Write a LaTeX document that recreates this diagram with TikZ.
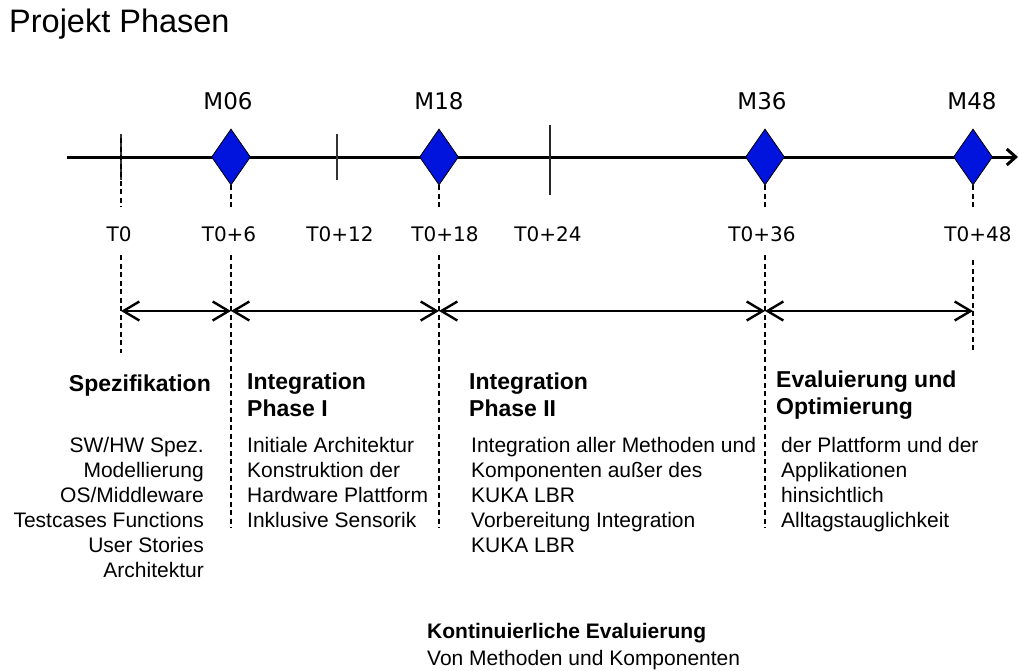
\documentclass[tikz,border=0pt]{standalone}
\usepackage{fontspec}
\setmainfont{Liberation Sans}
\newfontfamily\milefont{DejaVu Sans}
\usetikzlibrary{arrows.meta,shapes.geometric}

\definecolor{mileblue}{RGB}{0,20,222}

\tikzset{
	milestone/.style={diamond, draw=black, line width=0.8pt, fill=mileblue, inner sep=0pt, minimum width=39pt, minimum height=56pt},
	phaseline/.style={line width=2.6pt, dash pattern=on 5pt off 3.5pt},
	phasespan/.style={line width=2.4pt, {Straight Barb[length=16pt,width=19pt]}-{Straight Barb[length=16pt,width=19pt]}},
	mlabel/.style={anchor=base, inner sep=0pt, font=\milefont\fontsize{23}{27}\selectfont},
	tlabel/.style={anchor=base, inner sep=0pt, font=\milefont\fontsize{20}{24}\selectfont},
	heading/.style={inner sep=0pt, align=left, font=\bfseries\fontsize{23}{27}\selectfont},
	body/.style={inner sep=0pt, align=left, font=\fontsize{21}{25}\selectfont},
}

\begin{document}
\begin{tikzpicture}[x=1pt, y=-1pt]
	%%%%% START %%%%%
	\useasboundingbox (0,0) rectangle (1019,670);
	
	\node[anchor=base west, inner sep=0pt, font=\fontsize{32.5}{38}\selectfont] (title) at (9,32) {Projekt Phasen};
	
	% time axis
	\coordinate (axisstart) at (67,157);
	\coordinate (axisend) at (1018,157);
	\draw[line width=3pt, -{Straight Barb[length=9pt,width=16pt]}] (axisstart) -- (axisend);
	
	% plain ticks
	\draw[line width=1.5pt, color=black!80] (121,134) -- (121,180);
	\draw[line width=1.5pt, color=black!80] (337,134) -- (337,180);
	\draw[line width=2pt, color=black!85] (550,125) -- (550,195);
	\draw[phaseline] (121,138) -- (121,207);
	\draw[phaseline] (121,255) -- (121,353);
	
	% milestones
	\node[milestone] (m06) at (231,157) {};
	\node[milestone] (m18) at (439,157) {};
	\node[milestone] (m36) at (765,157) {};
	\node[milestone] (m48) at (973,157) {};
	
	\node[mlabel] (l06) at (228,109) {M06};
	\node[mlabel] (l18) at (439,109) {M18};
	\node[mlabel] (l36) at (762,109) {M36};
	\node[mlabel] (l48) at (972,109) {M48};
	
	\draw[phaseline] (m06.south) -- (231,207);
	\draw[phaseline] (m18.south) -- (439,207);
	\draw[phaseline] (m36.south) -- (765,207);
	\draw[phaseline] (m48.south) -- (973,207);
	\draw[phaseline] (231,255) -- (231,528);
	\draw[phaseline] (439,255) -- (439,528);
	\draw[phaseline] (765,255) -- (765,528);
	\draw[phaseline] (973,260) -- (973,350);
	
	% month labels
	\node[tlabel] (t0) at (119,241) {T0};
	\node[tlabel] (t6) at (229,241) {T0+6};
	\node[tlabel] (t12) at (340,241) {T0+12};
	\node[tlabel] (t18) at (445,241) {T0+18};
	\node[tlabel] (t24) at (548,241) {T0+24};
	\node[tlabel] (t36) at (762,241) {T0+36};
	\node[tlabel] (t48) at (978,241) {T0+48};
	
	% phase spans
	\coordinate (s0) at (121,311);
	\coordinate (s1) at (231,311);
	\coordinate (s2) at (439,311);
	\coordinate (s3) at (765,311);
	\coordinate (s4) at (973,311);
	\draw[phasespan] (s0) -- (s1);
	\draw[phasespan] (s1) -- (s2);
	\draw[phasespan] (s2) -- (s3);
	\draw[phasespan] (s3) -- (s4);
	
	% phase texts
	\node[heading, anchor=base east] (spechead) at (211,391.5) {Spezifikation};
	\node[body, align=right, anchor=north east] (spectext) at (204,434.5) {\strut SW/HW Spez.\\Modellierung\\OS/Middleware\\Testcases Functions\\User Stories\\Architektur};
	
	\node[heading, anchor=north west] (int1head) at (247,370.6) {\strut Integration\\Phase I};
	\node[body, anchor=north west] (int1text) at (247,434.5) {\strut Initiale Architektur\\Konstruktion der\\Hardware Plattform\\Inklusive Sensorik};
	
	\node[heading, anchor=north west] (int2head) at (469,370.6) {\strut Integration\\Phase II};
	\node[body, anchor=north west] (int2text) at (471,434.5) {\strut Integration aller Methoden und\\Komponenten außer des\\KUKA LBR\\Vorbereitung Integration\\KUKA LBR};
	
	\node[heading, anchor=north west] (evalhead) at (776,368.1) {\strut Evaluierung und\\Optimierung};
	\node[body, anchor=north west] (evaltext) at (781,434.5) {\strut der Plattform und der\\Applikationen\\hinsichtlich\\Alltagstauglichkeit};
	
	\node[inner sep=0pt, align=left, anchor=north west, font=\fontsize{21}{27}\selectfont] (konti) at (427,619) {\strut\textbf{Kontinuierliche Evaluierung}\\Von Methoden und Komponenten};
	
	%%%%% END %%%%%
\end{tikzpicture}
\end{document}
